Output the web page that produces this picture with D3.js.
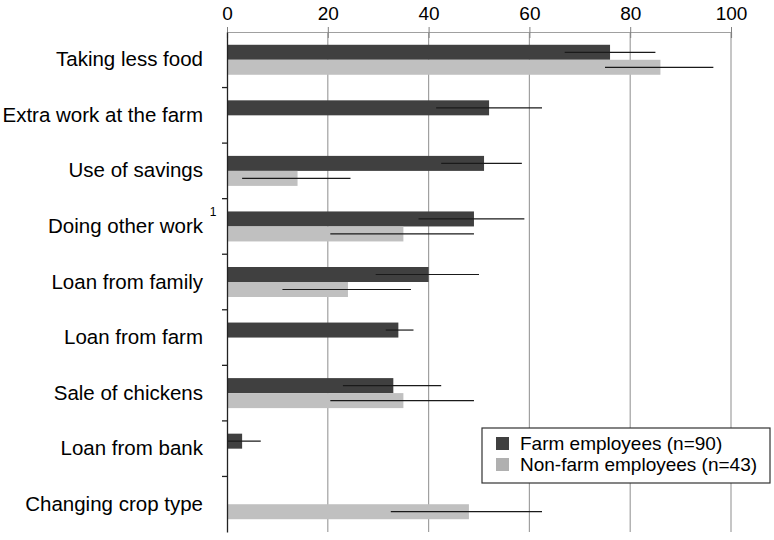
<!DOCTYPE html>
<html>
<head>
<meta charset="utf-8">
<script src="https://cdn.jsdelivr.net/npm/d3@7"></script>
<style>
  body { margin: 0; background: #fff; }
  svg text { font-family: "Liberation Sans", Arial, sans-serif; }
</style>
</head>
<body>
<div id="chart"></div>
<script>
// data
const categories = [
  "Taking less food",
  "Extra work at the farm",
  "Use of savings",
  "Doing other work",
  "Loan from family",
  "Loan from farm",
  "Sale of chickens",
  "Loan from bank",
  "Changing crop type"
];
const seriesNames = ["Farm employees (n=90)", "Non-farm employees (n=43)"];
const farmValues = [76, 52, 51, 49, 40, 34, 33, 3, 0];
const farmLow = [67, 41.5, 42.5, 38, 29.5, 31.5, 23, 0, null];
const farmHigh = [85, 62.5, 58.5, 59, 50, 37, 42.5, 6.7, null];
const nonFarmValues = [86, 0, 14, 35, 24, 0, 35, 0, 48];
const nonFarmLow = [75, null, 3, 20.5, 11, null, 20.5, null, 32.5];
const nonFarmHigh = [96.5, null, 24.5, 49, 36.5, null, 49, null, 62.5];
const xTicks = [0, 20, 40, 60, 80, 100];

// setup dimensions
const margin = { top: 32, right: 43, bottom: 8, left: 227 };
const width = 774;
const height = 540;
const chartWidth = width - margin.left - margin.right;
const chartHeight = height - margin.top - margin.bottom;

const colors = ["#404040", "#c0c0c0"];

const svg = d3.select("#chart")
  .append("svg")
  .attr("width", width)
  .attr("height", height);

const g = svg.append("g")
  .attr("transform", `translate(${margin.left},${margin.top})`);

const x = d3.scaleLinear().domain([0, 100]).range([0, chartWidth]);
const y = d3.scaleBand().domain(categories).range([0, chartHeight]);
const barH = 15;
const sub = d3.scaleBand().domain([0, 1]).range([y.bandwidth() / 2 - barH, y.bandwidth() / 2 + barH]);

// gridlines
g.selectAll("line.grid")
  .data(xTicks.filter(d => d > 0))
  .join("line")
  .attr("class", "grid")
  .attr("x1", d => x(d)).attr("x2", d => x(d))
  .attr("y1", 0).attr("y2", chartHeight)
  .attr("stroke", "#a0a0a0")
  .attr("stroke-width", 1.2);

// top axis
const xAxisG = g.append("g")
  .call(d3.axisTop(x).tickValues(xTicks).tickSize(-6).tickPadding(12));
xAxisG.select(".domain").attr("stroke", "#a0a0a0").attr("stroke-width", 1.2);
xAxisG.selectAll(".tick line").attr("stroke", "#808080").attr("transform", "translate(0,-5)").attr("y2", 11);
xAxisG.selectAll("text")
  .attr("fill", "#000")
  .style("font-size", "19px");

// rows of data for bars
const rows = categories.map((c, i) => ({
  cat: c,
  vals: [
    { s: 0, v: farmValues[i], lo: farmLow[i], hi: farmHigh[i] },
    { s: 1, v: nonFarmValues[i], lo: nonFarmLow[i], hi: nonFarmHigh[i] }
  ]
}));
const bars = rows.flatMap(r => r.vals.map(d => ({ cat: r.cat, ...d })));

g.selectAll("rect.bar")
  .data(bars.filter(d => d.v > 0))
  .join("rect")
  .attr("class", "bar")
  .attr("x", x(0))
  .attr("y", d => y(d.cat) + sub(d.s))
  .attr("width", d => x(d.v) - x(0))
  .attr("height", sub.bandwidth())
  .attr("fill", d => colors[d.s]);

// error bars
g.selectAll("line.err")
  .data(bars.filter(d => d.lo != null))
  .join("line")
  .attr("class", "err")
  .attr("x1", d => x(d.lo))
  .attr("x2", d => x(d.hi))
  .attr("y1", d => y(d.cat) + sub(d.s) + sub.bandwidth() / 2)
  .attr("y2", d => y(d.cat) + sub(d.s) + sub.bandwidth() / 2)
  .attr("stroke", "#1a1a1a")
  .attr("stroke-width", 1.2);

// left axis
const yAxisG = g.append("g")
  .call(d3.axisLeft(y).tickSize(0).tickPadding(24));
yAxisG.select(".domain").attr("stroke", "#222").attr("stroke-width", 1.3);
yAxisG.selectAll("text")
  .attr("fill", "#000")
  .style("font-size", "20.5px");

// tick marks at band boundaries
g.selectAll("line.ytick")
  .data(categories.slice(1))
  .join("line")
  .attr("class", "ytick")
  .attr("x1", -5).attr("x2", 0)
  .attr("y1", d => y(d)).attr("y2", d => y(d))
  .attr("stroke", "#222")
  .attr("stroke-width", 1.3);

// superscript on "Doing other work"
g.append("text")
  .attr("x", -14)
  .attr("y", y("Doing other work") + y.bandwidth() / 2 - 10)
  .attr("text-anchor", "middle")
  .style("font-size", "12px")
  .text("1");

// legend
const legend = svg.append("g").attr("transform", "translate(482,428)");
legend.append("rect")
  .attr("width", 288).attr("height", 55)
  .attr("fill", "#fff")
  .attr("stroke", "#333").attr("stroke-width", 1.2);
seriesNames.forEach((name, i) => {
  legend.append("rect")
    .attr("x", 14).attr("y", 9 + i * 21)
    .attr("width", 13).attr("height", 13)
    .attr("fill", i === 0 ? colors[0] : "#b0b0b0");
  legend.append("text")
    .attr("x", 38).attr("y", 22 + i * 21)
    .style("font-size", "19px")
    .text(name);
});
</script>
</body>
</html>
